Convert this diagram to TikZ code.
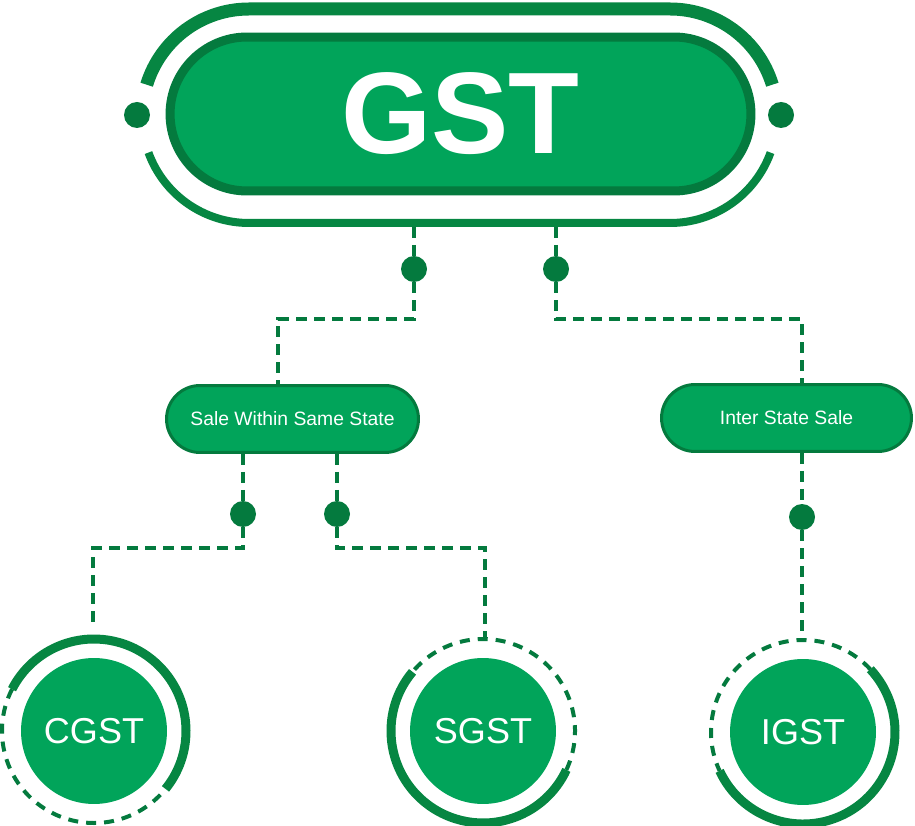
\documentclass[tikz,border=0pt]{standalone}
\usepackage{fontspec}
\setmainfont{Liberation Sans}
\usetikzlibrary{shapes.misc}
\definecolor{gstgreen}{RGB}{1,164,90}
\definecolor{gstdark}{RGB}{4,122,62}
\definecolor{gstring}{RGB}{6,134,66}

\begin{document}
\begin{tikzpicture}[x=0.02cm,y=0.02cm,
    link/.style={draw=gstdark, line width=0.07cm, dash pattern=on 0.22cm off 0.14cm},
    dot/.style={circle, fill=gstdark, minimum size=0.52cm, inner sep=0pt},
    salebox/.style={rounded rectangle, fill=gstgreen, draw=gstdark, line width=0.06cm,
        text=white, font=\fontsize{11}{13}\selectfont, minimum height=1.34cm, inner sep=0pt},
    taxcircle/.style={circle, fill=gstgreen, text=white, minimum size=2.92cm, inner sep=0pt,
        font=\fontsize{20.5}{24}\selectfont},
    solidring/.style={draw=gstring, line width=0.18cm},
    dashring/.style={draw=gstdark, line width=0.08cm, dash pattern=on 0.2cm off 0.16cm}]
\useasboundingbox (0,0) rectangle (915,825);

%% ring round the GST box, open at both sides
\draw[gstring, line width=0.26cm] (249,709) ++(163:107) arc[start angle=163, end angle=90, radius=107]
    -- (670,816) arc[start angle=90, end angle=17, radius=107];
\draw[gstring, line width=0.16cm] (249,709) ++(200:107) arc[start angle=200, end angle=270, radius=107]
    -- (670,602) arc[start angle=270, end angle=340, radius=107];
\node[dot] (sidel) at (137,710) {};
\node[dot] (sider) at (781,710) {};

\node[rounded rectangle, fill=gstgreen, draw=gstdark, line width=0.18cm, minimum width=11.62cm,
    minimum height=3.08cm, inner sep=0pt, text=white, font=\fontsize{66}{78}\selectfont\bfseries]
    (gst) at (460.5,711) {GST};

%% first level
\coordinate (ringl) at (414,598);
\coordinate (ringr) at (556,598);
\node[dot] (d1) at (414,556) {};
\node[dot] (d2) at (556,556) {};
\node[salebox, minimum width=5.04cm] (same) at (292.5,406) {Sale Within Same State};
\node[salebox, minimum width=5.0cm] (inter) at (786.5,407) {Inter State Sale};
\draw[link] (ringl) -- (d1) -- ++(0,-50) -| ([xshift=-0.29cm]same.north);
\draw[link] (ringr) -- (d2) -- ++(0,-50) -| ([xshift=0.31cm]inter.north);

%% second level
\node[dot] (d3) at (243,311) {};
\node[dot] (d4) at (337,311) {};
\node[dot] (d5) at (802,308) {};
\node[taxcircle] (cgst) at (94,94) {CGST};
\node[taxcircle] (sgst) at (483,94) {SGST};
\node[taxcircle] (igst) at (803,93) {IGST};
\coordinate (cgsttop) at (93,198);
\coordinate (sgsttop) at (485,188);
\coordinate (igsttop) at (802,187);
\draw[link] (same.south -| d3) -- (d3) -- ++(0,-34) -| (cgsttop);
\draw[link] (same.south -| d4) -- (d4) -- ++(0,-34) -| (sgsttop);
\draw[link] (inter.south -| d5) -- (d5) -- (igsttop);

%% half solid, half dashed rings
\draw[solidring] (cgst.center) ++(-39:92) arc[start angle=-39, end angle=153, radius=92];
\draw[dashring] (cgst.center) ++(153:92) arc[start angle=153, end angle=321, radius=92];
\draw[solidring] (sgst.center) ++(140:92) arc[start angle=140, end angle=335, radius=92];
\draw[dashring] (sgst.center) ++(-25:92) arc[start angle=-25, end angle=140, radius=92];
\draw[solidring] (igst.center) ++(205:92) arc[start angle=205, end angle=403, radius=92];
\draw[dashring] (igst.center) ++(43:92) arc[start angle=43, end angle=205, radius=92];
\end{tikzpicture}
\end{document}
